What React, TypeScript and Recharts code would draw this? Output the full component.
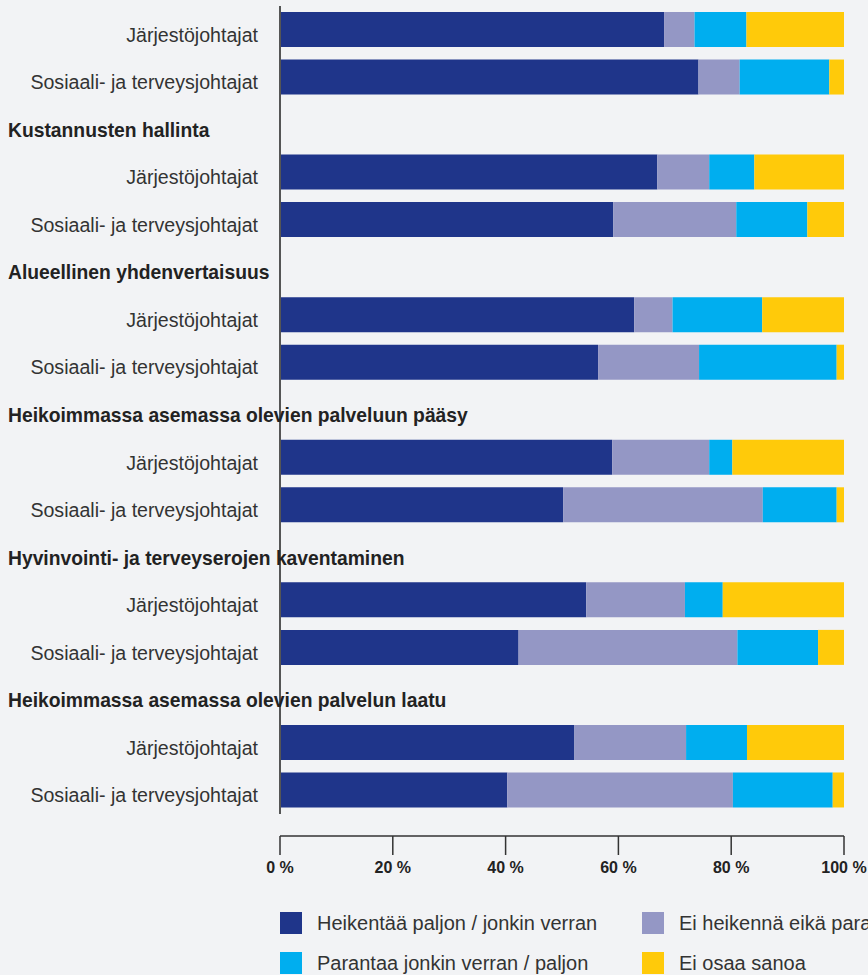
import React from 'react';
import {BarChart, Bar, XAxis, YAxis} from 'recharts';

// group titles (the first group's title is above the visible area)
const groupTitles = [
    '',
    'Kustannusten hallinta',
    'Alueellinen yhdenvertaisuus',
    'Heikoimmassa asemassa olevien palveluun pääsy',
    'Hyvinvointi- ja terveyserojen kaventaminen',
    'Heikoimmassa asemassa olevien palvelun laatu',
];
const respondents = ['Järjestöjohtajat', 'Sosiaali- ja terveysjohtajat'];

const seriesNames = [
    'Heikentää paljon / jonkin verran',
    'Ei heikennä eikä paranna',
    'Parantaa jonkin verran / paljon',
    'Ei osaa sanoa',
];

// % per bar, two bars (respondent groups) per title
const weakens = [68.1, 74.2, 66.9, 59.1, 62.8, 56.4, 58.9, 50.2, 54.3, 42.3, 52.2, 40.3];
const neutral = [5.4, 7.3, 9.2, 21.8, 6.8, 17.9, 17.2, 35.4, 17.5, 38.8, 19.8, 40.0];
const improves = [9.2, 15.9, 8.0, 12.6, 15.9, 24.4, 4.1, 13.1, 6.7, 14.3, 10.8, 17.7];
const dontKnow = [17.3, 2.6, 15.9, 6.5, 14.5, 1.3, 19.8, 1.3, 21.5, 4.6, 17.2, 2.0];

const xTicks = [0, 20, 40, 60, 80, 100];

const COLORS = ['#1f358a', '#9497c5', '#00aeef', '#ffca0a'];
const FONT = '"Liberation Sans", Arial, sans-serif';
const CHART_W = 868;
const CHART_H = 875;
const LEFT = 280;
const RIGHT = 24;
const PLOT_W = CHART_W - LEFT - RIGHT;

interface Row {
    key: string;
    label: string;
    header: boolean;
    weakens?: number;
    neutral?: number;
    improves?: number;
    dontKnow?: number;
}

const rows: Row[] = [];
groupTitles.forEach((title, g) => {
    if (title) rows.push({key: `h${g}`, label: title, header: true});
    respondents.forEach((name, j) => {
        const i = g * 2 + j;
        rows.push({
            key: `r${i}`,
            label: name,
            header: false,
            weakens: weakens[i],
            neutral: neutral[i],
            improves: improves[i],
            dontKnow: dontKnow[i],
        });
    });
});
const rowByKey: Record<string, Row> = {};
rows.forEach(r => (rowByKey[r.key] = r));

const YTick = (props: any) => {
    const {y, payload} = props;
    const row = rowByKey[payload.value];
    if (!row) return null;
    if (row.header) {
        return (
            <text x={8} y={y + 12} fontFamily={FONT} fontSize={19.3} fontWeight="bold" fill="#222">
                {row.label}
            </text>
        );
    }
    return (
        <text x={258} y={y + 12} textAnchor="end" fontFamily={FONT} fontSize={19.6} fill="#333">
            {row.label}
        </text>
    );
};

// x axis sits a bit below the plot, so it is drawn by the tick itself
const XTick = (props: any) => {
    const {x, y, payload, index} = props;
    return (
        <g>
            {index === 0 && <line x1={x} x2={x + PLOT_W} y1={y + 22} y2={y + 22} stroke="#333" strokeWidth={1.5}/>}
            <line x1={x} x2={x} y1={y + 22} y2={y + 41} stroke="#333" strokeWidth={1.5}/>
            <text x={x} y={y + 58.5} textAnchor="middle" fontFamily={FONT} fontSize={16} fontWeight="bold" fill="#222">
                {payload.value} %
            </text>
        </g>
    );
};

const legendPos = [
    {x: 280, y: 912},
    {x: 642, y: 912},
    {x: 280, y: 952},
    {x: 642, y: 952},
];

export default function App() {
    return (
        <div style={{
            position: 'absolute', left: 0, top: 0, width: 868, height: 975,
            overflow: 'hidden', background: '#f2f3f5', fontFamily: FONT,
        }}>
            <BarChart
                width={CHART_W}
                height={CHART_H}
                data={rows}
                layout="vertical"
                margin={{top: 6, right: RIGHT, left: 0, bottom: 0}}
                barSize={35}
            >
                <XAxis
                    type="number"
                    domain={[0, 100]}
                    ticks={xTicks}
                    interval={0}
                    axisLine={false}
                    tickLine={false}
                    tickSize={0}
                    tickMargin={0}
                    height={61}
                    tick={<XTick/>}
                />
                <YAxis
                    type="category"
                    dataKey="key"
                    width={LEFT}
                    interval={0}
                    axisLine={{stroke: '#555', strokeWidth: 2}}
                    tickLine={false}
                    tick={<YTick/>}
                />
                <Bar dataKey="weakens" stackId="a" fill={COLORS[0]} name={seriesNames[0]} isAnimationActive={false}/>
                <Bar dataKey="neutral" stackId="a" fill={COLORS[1]} name={seriesNames[1]} isAnimationActive={false}/>
                <Bar dataKey="improves" stackId="a" fill={COLORS[2]} name={seriesNames[2]} isAnimationActive={false}/>
                <Bar dataKey="dontKnow" stackId="a" fill={COLORS[3]} name={seriesNames[3]} isAnimationActive={false}/>
            </BarChart>

            {seriesNames.map((name, i) => (
                <div key={name} style={{
                    position: 'absolute', left: legendPos[i].x, top: legendPos[i].y,
                    height: 22, display: 'flex', alignItems: 'center', whiteSpace: 'nowrap',
                }}>
                    <div style={{width: 22, height: 22, background: COLORS[i], marginRight: 15}}/>
                    <span style={{fontSize: 20, color: '#333'}}>{name}</span>
                </div>
            ))}
        </div>
    );
}
